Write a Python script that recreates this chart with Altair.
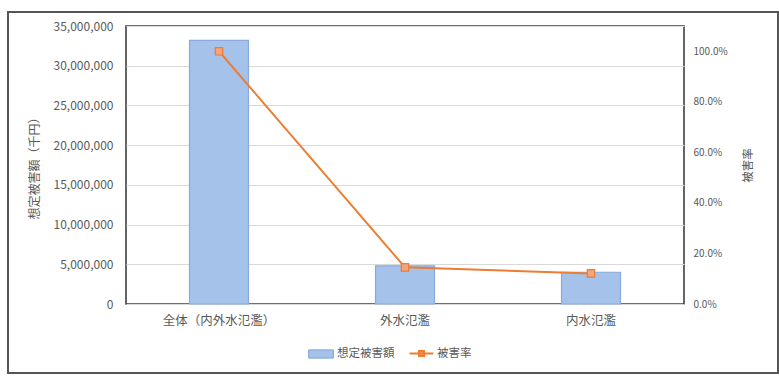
import altair as alt
import pandas as pd

categories = ["全体（内外水氾濫）", "外水氾濫", "内水氾濫"]
damage = [33200000, 4800000, 4000000]
rate = [1.0, 0.145, 0.121]
series_names = ["想定被害額", "被害率"]
left_ticks = [0, 5000000, 10000000, 15000000, 20000000, 25000000, 30000000, 35000000]
right_ticks = [0, 0.2, 0.4, 0.6, 0.8, 1.0]

df = pd.DataFrame({
    "category": categories,
    "damage": damage,
    "rate": rate,
    "s_bar": [series_names[0]] * len(categories),
    "s_line": [series_names[1]] * len(categories),
})

FONT = "Noto Sans CJK JP"
GRAY = "#595959"
ORANGE = "#ED7D31"

x_enc = alt.X(
    "category:N", sort=categories,
    scale=alt.Scale(paddingInner=0, paddingOuter=0),
    axis=alt.Axis(title=None, labelAngle=0, ticks=False, domain=False,
                  labelPadding=10, labelFontSize=12.5, labelColor=GRAY, labelFont=FONT),
)

bars = alt.Chart(df).mark_bar(size=59, stroke="#88ABDB", strokeWidth=1.2).encode(
    x=x_enc,
    y=alt.Y("damage:Q",
            scale=alt.Scale(domain=[0, 35000000], nice=False),
            axis=alt.Axis(title="想定被害額（千円）", values=left_ticks, format=",d",
                          ticks=False, domain=False, grid=True, gridColor="#D9D9D9",
                          labelPadding=13, labelFontSize=12, labelColor=GRAY, labelFont=FONT,
                          titleFont=FONT, titleFontSize=12, titleColor=GRAY,
                          titleFontWeight="normal", titlePadding=12)),
    fill=alt.Fill("s_bar:N", scale=alt.Scale(domain=[series_names[0]], range=["#A4C2EA"]),
                  legend=alt.Legend(title=None, orient="none", legendX=186, legendY=319,
                                    symbolType="M-1.5,-0.5H1.5V0.5H-1.5Z", symbolSize=270,
                                    symbolStrokeColor="#7FA3D6", symbolStrokeWidth=1,
                                    labelFont=FONT, labelFontSize=11.5, labelColor=GRAY,
                                    labelOffset=7)),
)

y_rate = alt.Y("rate:Q",
               scale=alt.Scale(domain=[0, 1.1], nice=False),
               axis=alt.Axis(title="被害率", values=right_ticks, format=".1%", orient="right",
                             ticks=False, domain=False, grid=False,
                             labelPadding=9, labelFontSize=10, labelColor=GRAY, labelFont=FONT,
                             titleFont=FONT, titleFontSize=11.5, titleColor=GRAY,
                             titleFontWeight="normal", titleAngle=-90, titlePadding=26))

line = alt.Chart(df).mark_line(strokeWidth=2).encode(
    x=x_enc,
    y=y_rate,
    stroke=alt.Stroke("s_line:N", scale=alt.Scale(domain=[series_names[1]], range=[ORANGE]),
                      legend=alt.Legend(title=None, orient="none", legendX=287, legendY=319,
                                        symbolType="M-1.6,0H1.6M-0.35,-0.35H0.35V0.35H-0.35Z",
                                        symbolSize=220, symbolStrokeWidth=2,
                                        symbolFillColor="#F4A57E",
                                        labelFont=FONT, labelFontSize=11.5, labelColor=GRAY,
                                        labelOffset=7)),
)

points = alt.Chart(df).mark_point(shape="square", filled=True, size=55, fill="#F4A57E",
                                  stroke=ORANGE, strokeWidth=1.2, opacity=1).encode(
    x=x_enc,
    y="rate:Q",
)

frame_df = pd.DataFrame({"k": [0]})
frame = alt.Chart(frame_df).mark_rect(fill=None, stroke="#555555", strokeWidth=2).encode(
    x=alt.value(-118), x2=alt.value(652), y=alt.value(-14), y2=alt.value(347)
)

chart = alt.layer(
    frame, bars, alt.layer(line, points)
).resolve_scale(y="independent").properties(
    width=558, height=278,
    autosize=alt.AutoSizeParams(type="none"),
    padding={"left": 126, "top": 26, "right": 95, "bottom": 72},
    background="white",
).configure_view(stroke="#404040", strokeWidth=1.6)

chart.save("out.html", embed_options={"renderer": "svg", "actions": False})
